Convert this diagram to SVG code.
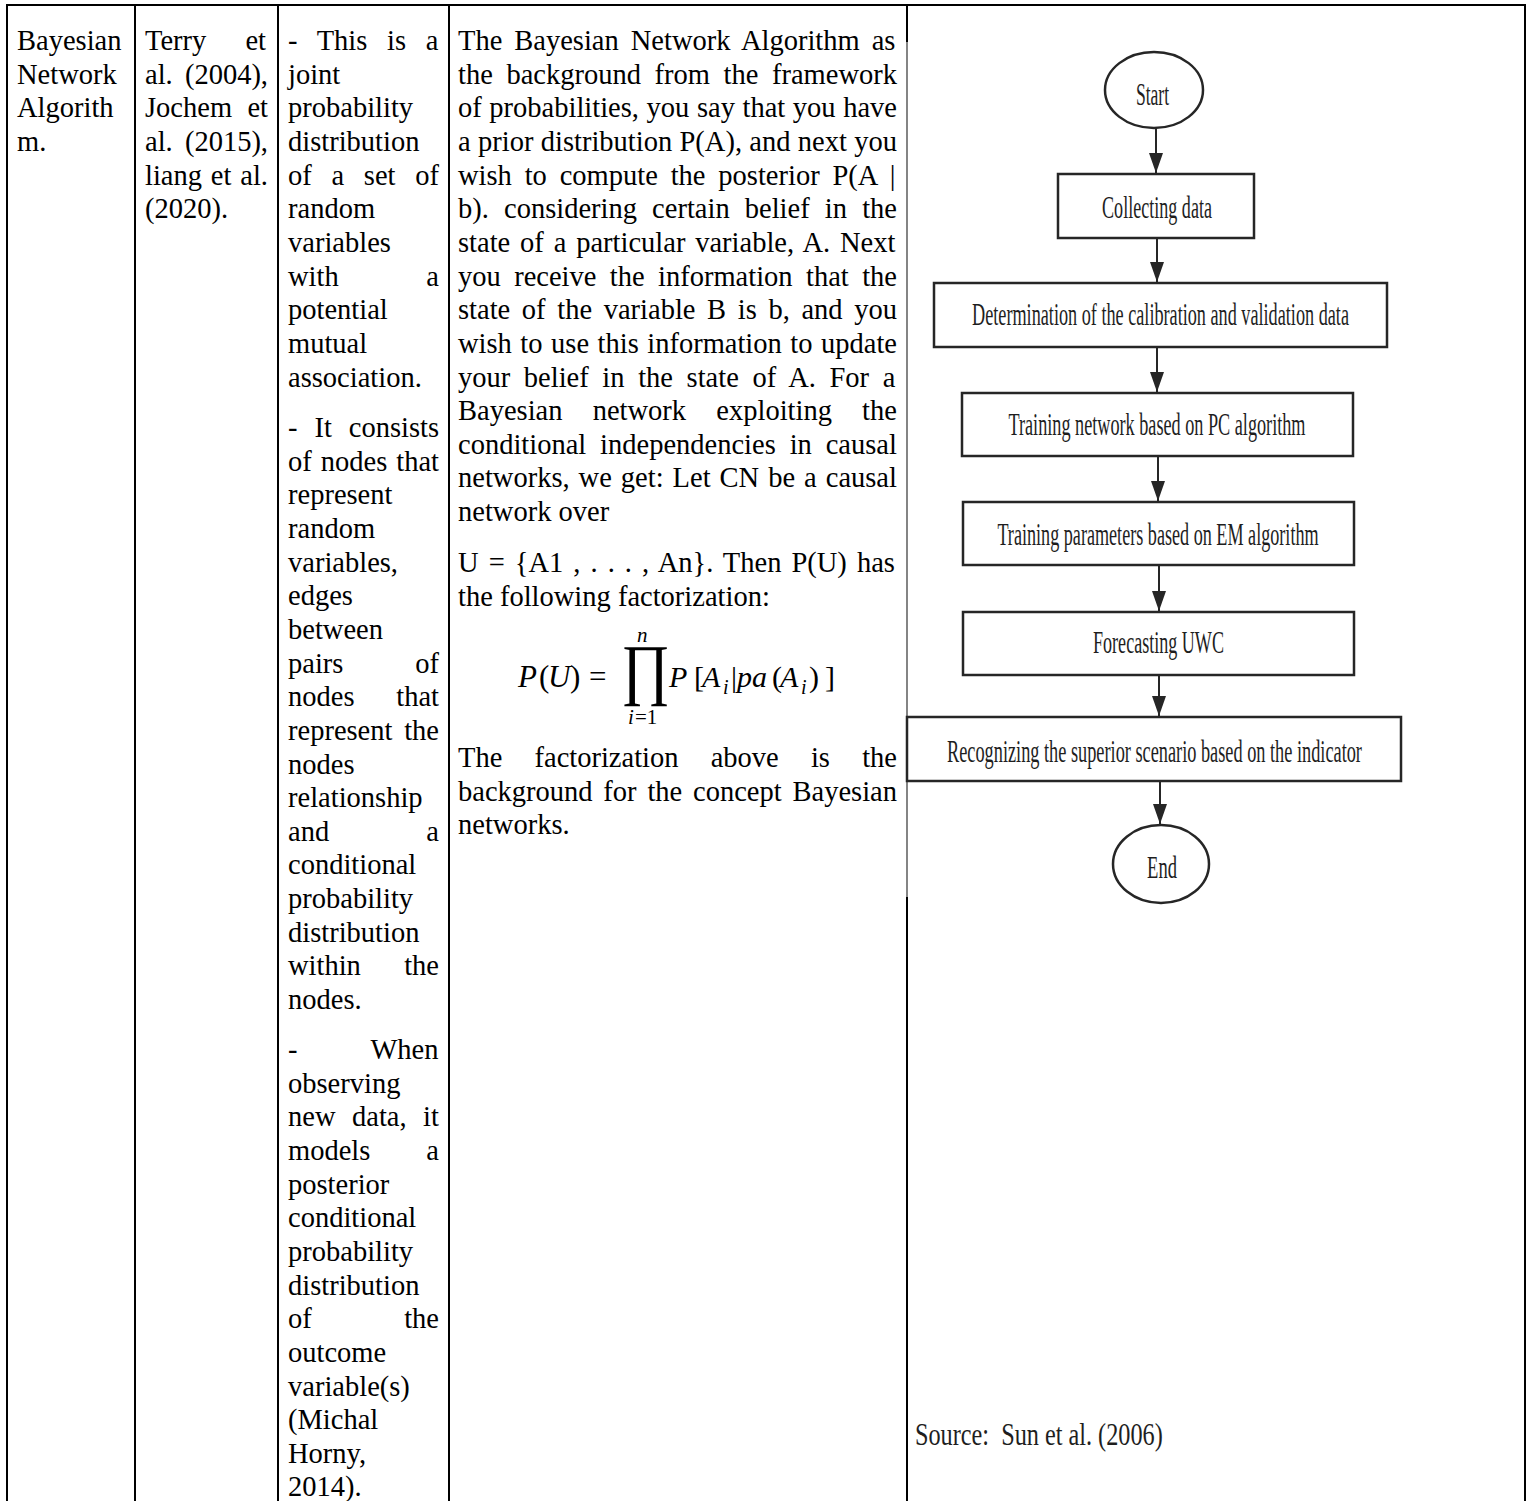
<svg xmlns="http://www.w3.org/2000/svg" width="1526" height="1501" viewBox="0 0 1526 1501">
<style>
.t{font-family:"Liberation Serif","Times New Roman",serif;font-size:28.5px;fill:#000}
.m{font-family:"Liberation Serif","Times New Roman",serif;fill:#000}
.it{font-style:italic}
.fc{font-family:"Liberation Serif","Times New Roman",serif;font-size:32px;fill:#1e1e1e;text-anchor:middle}
.box{fill:#fff;stroke:#262626;stroke-width:2.5}
.cn{stroke:#262626;stroke-width:2;fill:none}
.bl{stroke:#000;stroke-width:2;fill:none}
</style>
<defs>
<marker id="ah" viewBox="0 0 20 14" refX="20" refY="7" markerWidth="20" markerHeight="14" markerUnits="userSpaceOnUse" orient="auto">
<path d="M0,0 L20,7 L0,14 z" fill="#262626"/>
</marker>
</defs>
<rect width="1526" height="1501" fill="#fff"/>

<g id="table-lines">
<line class="bl" x1="6" y1="5" x2="1526" y2="5"/>
<line class="bl" x1="7" y1="4" x2="7" y2="1501"/>
<line class="bl" x1="135" y1="4" x2="135" y2="1501"/>
<line class="bl" x1="278" y1="4" x2="278" y2="1501"/>
<line class="bl" x1="449" y1="4" x2="449" y2="1501"/>
<line class="bl" x1="907" y1="4" x2="907" y2="42"/>
<line x1="907" y1="42" x2="907" y2="897" stroke="#333" stroke-width="1.2"/>
<line class="bl" x1="907" y1="897" x2="907" y2="1501"/>
<line class="bl" x1="1525" y1="4" x2="1525" y2="1501"/>
</g>

<g id="col1">
<text class="t" x="17" y="50">Bayesian</text>
<text class="t" x="17" y="83.65">Network</text>
<text class="t" x="17" y="117.3">Algorith</text>
<text class="t" x="17" y="150.95">m.</text>
</g>

<g id="col2">
<text class="t" x="145" y="50" word-spacing="32">Terry et</text>
<text class="t" x="145" y="83.65" word-spacing="5.07">al. (2004),</text>
<text class="t" x="145" y="117.3" word-spacing="8.2">Jochem et</text>
<text class="t" x="145" y="150.95" word-spacing="5.07">al. (2015),</text>
<text class="t" x="145" y="184.6" word-spacing="1.74">liang et al.</text>
<text class="t" x="145" y="218.25">(2020).</text>
</g>

<g id="col3">
<text class="t" x="288" y="50" word-spacing="12.6">- This is a</text>
<text class="t" x="288" y="83.65">joint</text>
<text class="t" x="288" y="117.3">probability</text>
<text class="t" x="288" y="150.95">distribution</text>
<text class="t" x="288" y="184.6" word-spacing="12.6">of a set of</text>
<text class="t" x="288" y="218.25">random</text>
<text class="t" x="288" y="251.9">variables</text>
<text class="t" x="288" y="285.55" word-spacing="80.5">with a</text>
<text class="t" x="288" y="319.2">potential</text>
<text class="t" x="288" y="352.85">mutual</text>
<text class="t" x="288" y="386.5">association.</text>

<text class="t" x="288" y="437" word-spacing="9.79">- It consists</text>
<text class="t" x="288" y="470.65" word-spacing="1.88">of nodes that</text>
<text class="t" x="288" y="504.3">represent</text>
<text class="t" x="288" y="537.95">random</text>
<text class="t" x="288" y="571.6">variables,</text>
<text class="t" x="288" y="605.25">edges</text>
<text class="t" x="288" y="638.9">between</text>
<text class="t" x="288" y="672.55" word-spacing="64.7">pairs of</text>
<text class="t" x="288" y="706.2" word-spacing="34.6">nodes that</text>
<text class="t" x="288" y="739.85" word-spacing="4.6">represent the</text>
<text class="t" x="288" y="773.5">nodes</text>
<text class="t" x="288" y="807.15">relationship</text>
<text class="t" x="288" y="840.8" word-spacing="90.1">and a</text>
<text class="t" x="288" y="874.45">conditional</text>
<text class="t" x="288" y="908.1">probability</text>
<text class="t" x="288" y="941.75">distribution</text>
<text class="t" x="288" y="975.4" word-spacing="36.2">within the</text>
<text class="t" x="288" y="1009.05">nodes.</text>

<text class="t" x="288" y="1059" word-spacing="66.3">- When</text>
<text class="t" x="288" y="1092.65">observing</text>
<text class="t" x="288" y="1126.3" word-spacing="9.4">new data, it</text>
<text class="t" x="288" y="1159.95" word-spacing="48.9">models a</text>
<text class="t" x="288" y="1193.6">posterior</text>
<text class="t" x="288" y="1227.25">conditional</text>
<text class="t" x="288" y="1260.9">probability</text>
<text class="t" x="288" y="1294.55">distribution</text>
<text class="t" x="288" y="1328.2" word-spacing="85.3">of the</text>
<text class="t" x="288" y="1361.85">outcome</text>
<text class="t" x="288" y="1395.5">variable(s)</text>
<text class="t" x="288" y="1429.15">(Michal</text>
<text class="t" x="288" y="1462.8">Horny,</text>
<text class="t" x="288" y="1496.45">2014).</text>
</g>

<g id="col4">
<text class="t" x="458" y="50" word-spacing="4.87">The Bayesian Network Algorithm as</text>
<text class="t" x="458" y="83.65" word-spacing="6.47">the background from the framework</text>
<text class="t" x="458" y="117.3" word-spacing="0.48">of probabilities, you say that you have</text>
<text class="t" x="458" y="150.95" word-spacing="0.21">a prior distribution P(A), and next you</text>
<text class="t" x="458" y="184.6" word-spacing="5.72">wish to compute the posterior P(A |</text>
<text class="t" x="458" y="218.25" word-spacing="8.02">b). considering certain belief in the</text>
<text class="t" x="458" y="251.9" word-spacing="2.73">state of a particular variable, A. Next</text>
<text class="t" x="458" y="285.55" word-spacing="6.28">you receive the information that the</text>
<text class="t" x="458" y="319.2" word-spacing="4.51">state of the variable B is b, and you</text>
<text class="t" x="458" y="352.85" word-spacing="1.39">wish to use this information to update</text>
<text class="t" x="458" y="386.5" word-spacing="6.49">your belief in the state of A. For a</text>
<text class="t" x="458" y="420.15" word-spacing="23.1">Bayesian network exploiting the</text>
<text class="t" x="458" y="453.8" word-spacing="6.76">conditional independencies in causal</text>
<text class="t" x="458" y="487.45" word-spacing="1.88">networks, we get: Let CN be a causal</text>
<text class="t" x="458" y="521.1">network over</text>
<text class="t" x="458" y="572" word-spacing="2.93">U = {A1 , . . . , An}. Then P(U) has</text>
<text class="t" x="458" y="605.65">the following factorization:</text>

<g id="formula">
<text class="m" y="687" font-size="31"><tspan x="518" class="it">P</tspan><tspan x="539">(</tspan><tspan x="548" class="it">U</tspan><tspan x="570">)</tspan><tspan x="589">=</tspan></text>
<text class="m" font-size="68" transform="translate(621,692) scale(0.87,1)">∏</text>
<text class="m it" x="637" y="642" font-size="21">n</text>
<text class="m" y="724" font-size="21"><tspan x="628" class="it">i</tspan><tspan x="635">=1</tspan></text>
<text class="m" y="687" font-size="30"><tspan x="669" class="it">P</tspan><tspan x="694">[</tspan><tspan x="702" class="it">A</tspan><tspan x="723" y="694" font-size="20" class="it">i</tspan><tspan x="731" y="687">|</tspan><tspan x="737" class="it">pa</tspan><tspan x="772">(</tspan><tspan x="780" class="it">A</tspan><tspan x="801" y="694" font-size="20" class="it">i</tspan><tspan x="809" y="687">)</tspan><tspan x="825">]</tspan></text>
</g>

<text class="t" x="458" y="767" word-spacing="25.07">The factorization above is the</text>
<text class="t" x="458" y="800.65" word-spacing="3.7">background for the concept Bayesian</text>
<text class="t" x="458" y="834.3">networks.</text>
</g>

<g id="connectors">
<line class="cn" x1="1156" y1="128" x2="1156" y2="173" marker-end="url(#ah)"/>
<line class="cn" x1="1157" y1="238" x2="1157" y2="282" marker-end="url(#ah)"/>
<line class="cn" x1="1157" y1="347" x2="1157" y2="392" marker-end="url(#ah)"/>
<line class="cn" x1="1158" y1="456" x2="1158" y2="501" marker-end="url(#ah)"/>
<line class="cn" x1="1159" y1="565" x2="1159" y2="611" marker-end="url(#ah)"/>
<line class="cn" x1="1159" y1="675" x2="1159" y2="716" marker-end="url(#ah)"/>
<line class="cn" x1="1160" y1="781" x2="1160" y2="824" marker-end="url(#ah)"/>
</g>

<g id="n-start">
<ellipse class="box" cx="1154" cy="90" rx="49" ry="38"/>
<text class="fc" transform="translate(1152.5,105) scale(0.55,1)">Start</text>
</g>
<g id="n-collect">
<rect class="box" x="1058" y="174" width="196" height="64"/>
<text class="fc" transform="translate(1157,218) scale(0.565,1)">Collecting data</text>
</g>
<g id="n-determ">
<rect class="box" x="934" y="283" width="453" height="64"/>
<text class="fc" transform="translate(1160.5,325) scale(0.569,1)">Determination of the calibration and validation data</text>
</g>
<g id="n-trainnet">
<rect class="box" x="962" y="393" width="391" height="63"/>
<text class="fc" transform="translate(1157,435) scale(0.569,1)">Training network based on PC algorithm</text>
</g>
<g id="n-trainparam">
<rect class="box" x="963" y="502" width="391" height="63"/>
<text class="fc" transform="translate(1158,545) scale(0.567,1)">Training parameters based on EM algorithm</text>
</g>
<g id="n-forecast">
<rect class="box" x="963" y="612" width="391" height="63"/>
<text class="fc" transform="translate(1158.5,653) scale(0.565,1)">Forecasting UWC</text>
</g>
<g id="n-recog">
<rect class="box" x="907" y="717" width="494" height="64"/>
<text class="fc" transform="translate(1154.5,762) scale(0.572,1)">Recognizing the superior scenario based on the indicator</text>
</g>
<g id="n-end">
<ellipse class="box" cx="1161" cy="864" rx="48" ry="39"/>
<text class="fc" transform="translate(1162,878) scale(0.58,1)">End</text>
</g>

<text class="fc" style="text-anchor:start" transform="translate(915,1445) scale(0.758,1)" xml:space="preserve">Source:  Sun et al. (2006)</text>
</svg>
